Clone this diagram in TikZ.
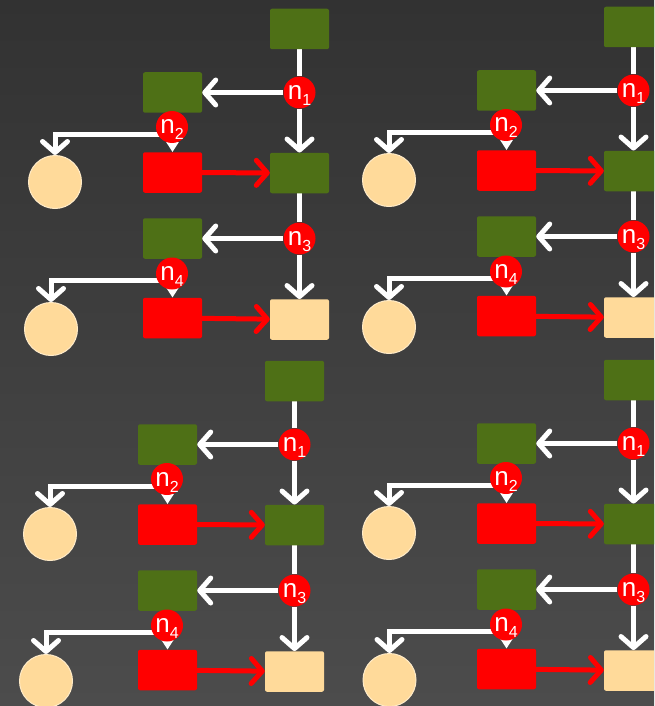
\documentclass[tikz,border=0pt]{standalone}
\usepackage{fontspec}
\setmainfont{Liberation Sans}
\usetikzlibrary{arrows.meta}
\pgfdeclarelayer{bg}
\pgfdeclarelayer{edges}
\pgfsetlayers{bg,edges,main}
\definecolor{bgtop}{HTML}{323232}
\definecolor{bgbot}{HTML}{4C4C4C}
\definecolor{leaf}{HTML}{4E7016}
\definecolor{sand}{HTML}{FFDA9A}
\definecolor{sandedge}{HTML}{FFEBC8}
\newcommand\nlab[1]{{\fontsize{26}{26}\selectfont n\smash{\raisebox{-6pt}{\fontsize{16}{16}\selectfont #1}}}}
\tikzset{
  boxbase/.style={rectangle, rounded corners=2pt, minimum width=59pt, minimum height=40.5pt, inner sep=0pt, draw=none},
  gbox/.style={boxbase, fill=leaf},
  rbox/.style={boxbase, fill=red},
  obox/.style={boxbase, fill=sand},
  ocirc/.style={circle, minimum size=53pt, inner sep=0pt, fill=sand, draw=sandedge, line width=1pt},
  ncirc/.style={circle, minimum size=32pt, inner sep=0pt, fill=red, text=white},
  wline/.style={draw=white, line width=5pt},
  warrow/.style={wline, -{Straight Barb[length=11pt, width=25pt, round]}},
  rarrow/.style={draw=red, line width=5pt, -{Straight Barb[length=11pt, width=25pt, round]}},
  tarrow/.style={wline, -{Triangle[length=10pt, width=12pt]}}
}
\newcommand\drawpanel[4]{%
\begin{scope}[shift={(#2,#3)}, name prefix=#1-]
  \node[gbox] (T) at (299.5,29) {};
  \node[gbox] (L1) at (172.5,92.5) {};
  \node[gbox] (G2) at (299.5,173) {};
  \node[rbox] (R1) at (172.5,172.5) {};
  \node[gbox] (L2) at (172.5,238.5) {};
  \node[rbox] (R2) at (172.5,318) {};
  \node[obox] (O) at (299.5,319.5) {};
  \node[ocirc] (C1) at (55,182) {};
  \node[ocirc] (C2) at (#4,329) {};
  \node[ncirc] (n1) at (299.5,92.5) {\nlab{1}};
  \node[ncirc] (n2) at (172,127) {\nlab{2}};
  \node[ncirc] (n3) at (299.5,238.5) {\nlab{3}};
  \node[ncirc] (n4) at (172,273.5) {\nlab{4}};
  \begin{pgfonlayer}{edges}
    \draw[wline] (T) -- (n1);
    \draw[warrow] (n1) -- (G2);
    \draw[warrow] (n1) -- (L1);
    \draw[tarrow] (L1) -- (R1);
    \draw[warrow] ([yshift=-7pt]n2.center) -| (C1.north);
    \draw[rarrow] (R1) -- (G2);
    \draw[wline] (G2) -- (n3);
    \draw[warrow] (n3) -- (O);
    \draw[warrow] (n3) -- (L2);
    \draw[tarrow] (L2) -- (R2);
    \draw[warrow] ([yshift=-7pt]n4.center) -| (C2.north);
    \draw[rarrow] (R2) -- (O);
  \end{pgfonlayer}
\end{scope}}
\begin{document}
\begin{tikzpicture}[x=1pt, y=-1pt]
  \useasboundingbox (0,0) rectangle (654,706);
  \clip (0,0) rectangle (654,706);
  \begin{pgfonlayer}{bg}
    \shade[top color=bgtop, bottom color=bgbot] (0,0) rectangle (654,706);
  \end{pgfonlayer}
  \drawpanel{a}{0}{0}{51}
  \drawpanel{b}{334}{-2}{55}
  \drawpanel{c}{-5}{352}{51}
  \drawpanel{d}{334}{351}{55.5}
\end{tikzpicture}
\end{document}
